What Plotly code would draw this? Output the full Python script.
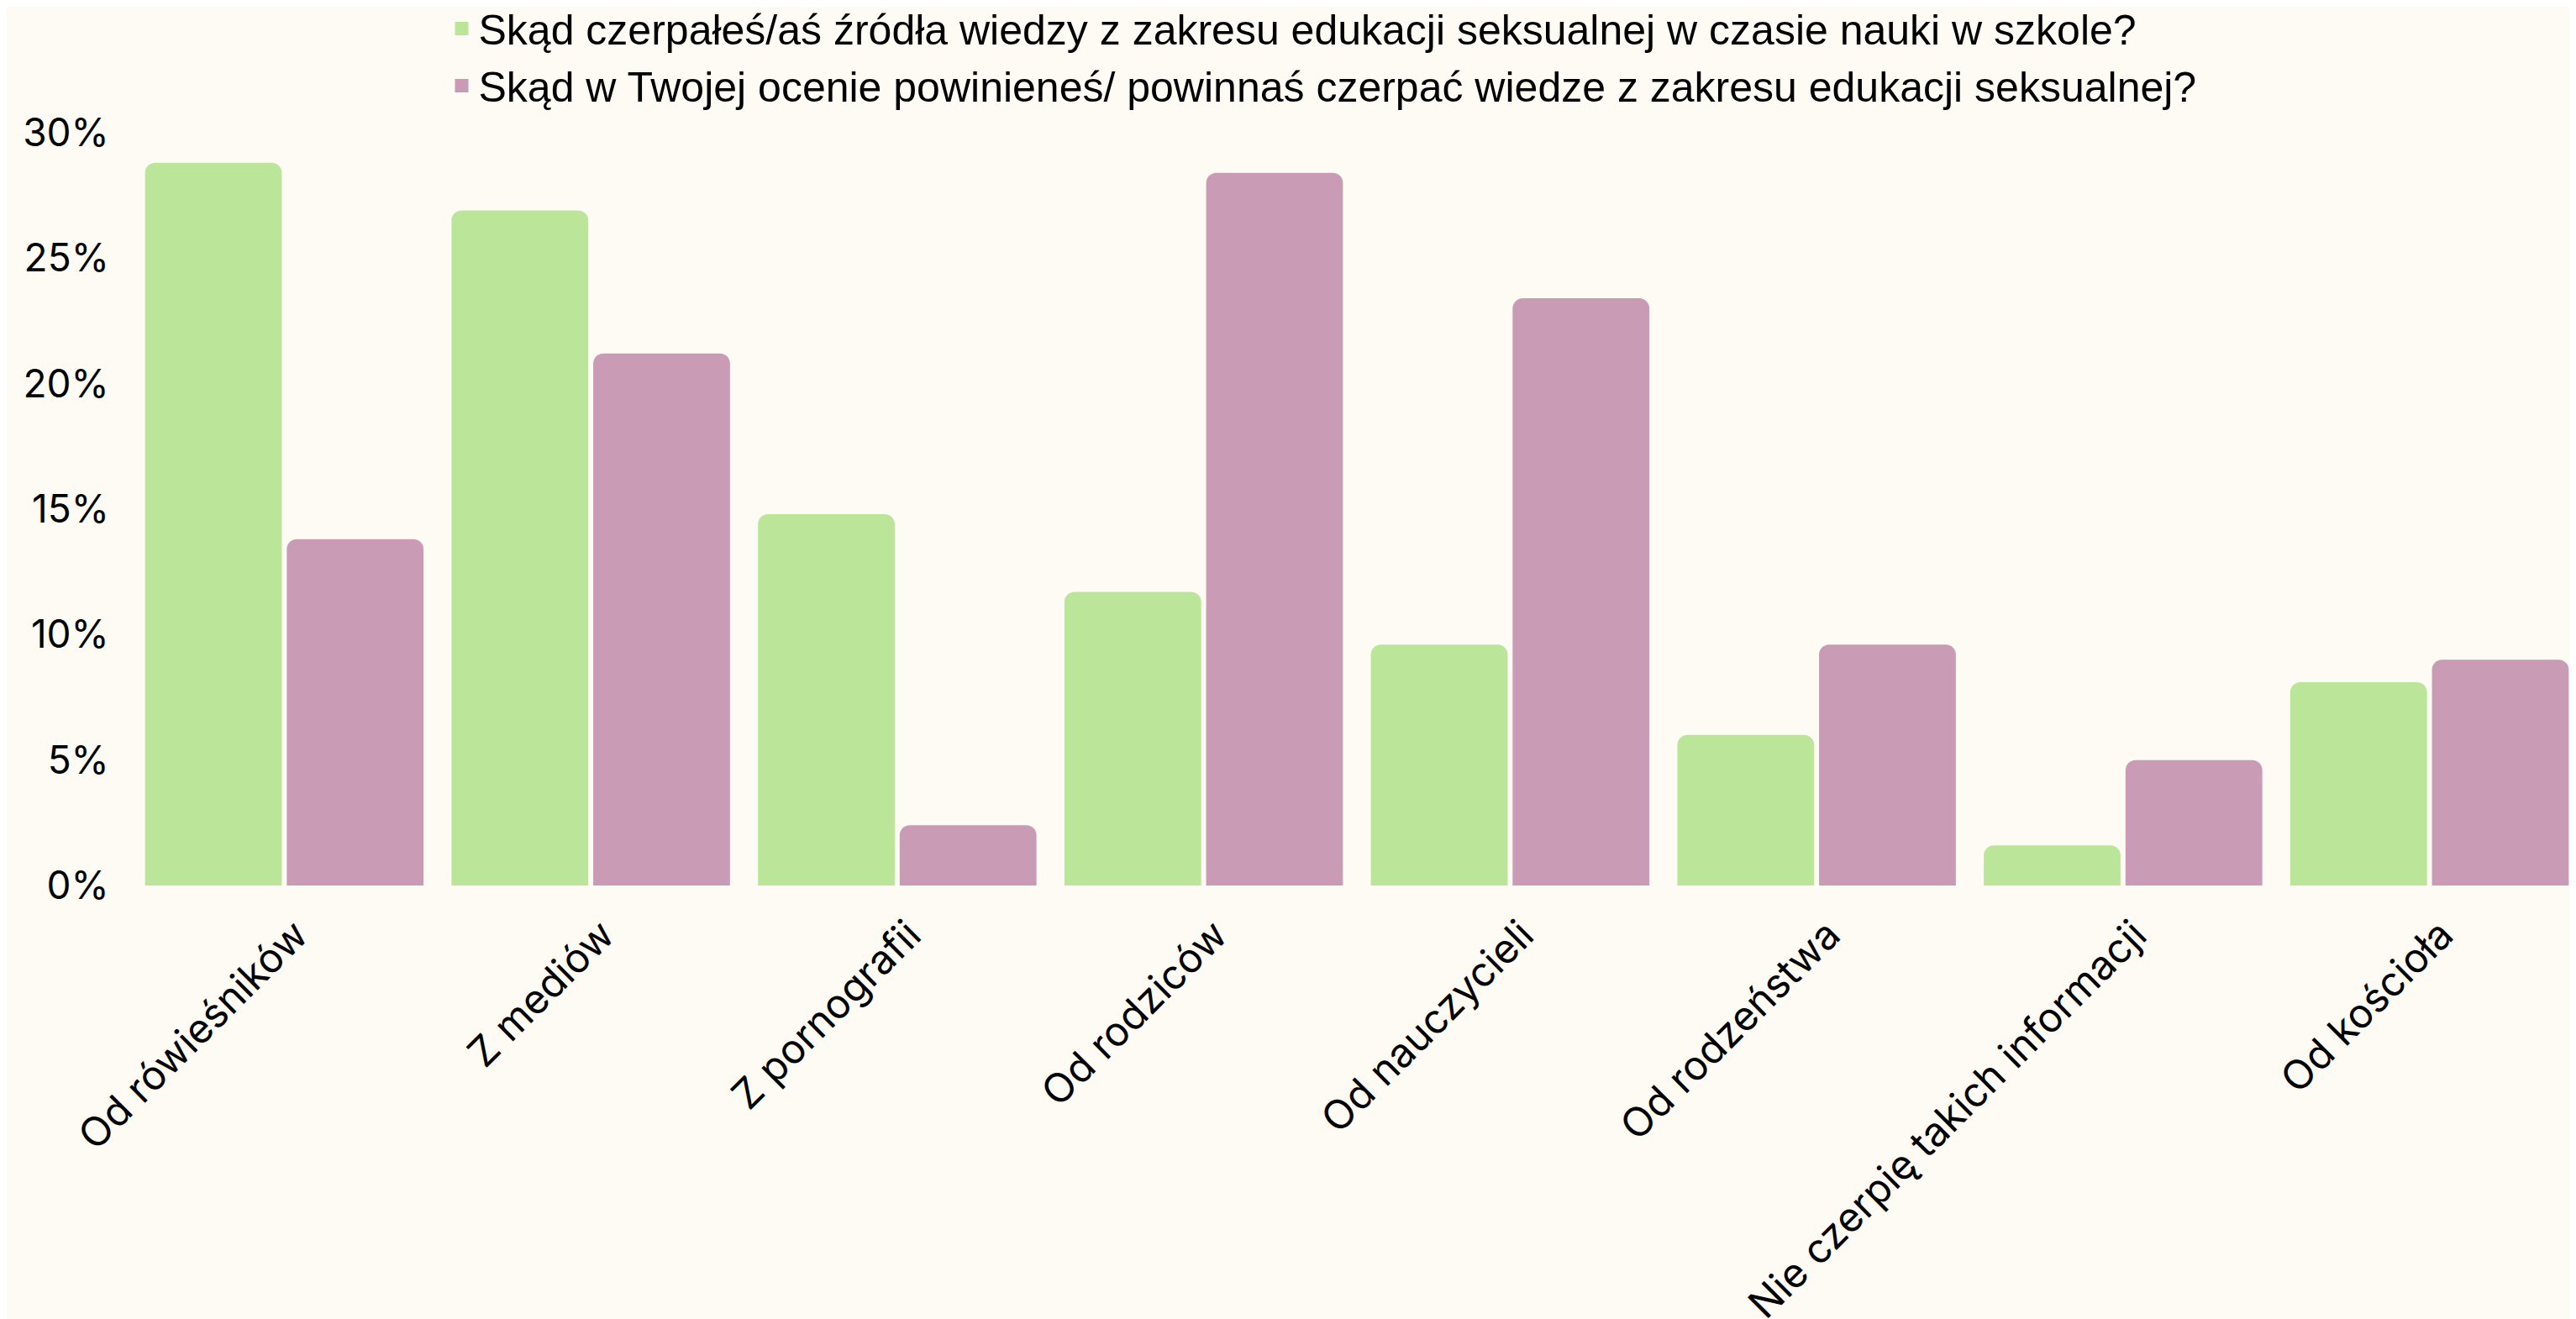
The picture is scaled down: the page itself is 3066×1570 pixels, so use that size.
import plotly.graph_objects as go

categories = ["Od rówieśników", "Z mediów", "Z pornografii", "Od rodziców",
              "Od nauczycieli", "Od rodzeństwa", "Nie czerpię takich informacji", "Od kościoła"]
series_names = [
    "Skąd czerpałeś/aś źródła wiedzy z zakresu edukacji seksualnej w czasie nauki w szkole?",
    "Skąd w Twojej ocenie powinieneś/ powinnaś czerpać wiedze z zakresu edukacji seksualnej?",
]
values_school = [28.8, 26.9, 14.8, 11.7, 9.6, 6.0, 1.6, 8.1]
values_should = [13.8, 21.2, 2.4, 28.4, 23.4, 9.6, 5.0, 9.0]
y_ticks = [0, 5, 10, 15, 20, 25, 30]
y_tick_labels = ["0%", "5%", "10%", "15%", "20%", "25%", "30%"]

BG = "#FDFBF4"
GREEN = "#BBE699"
PURPLE = "#C99BB4"
FONT = "Inter"
colors = [GREEN, PURPLE]

fig = go.Figure()
for vals, col, nm in zip([values_school, values_should], colors, series_names):
    fig.add_trace(go.Bar(x=categories, y=vals, name=nm, showlegend=False,
                         marker=dict(color=col, cornerradius=12, line=dict(width=0))))
# legend entries with larger square swatches
for col, nm in zip(colors, series_names):
    fig.add_trace(go.Scatter(x=[None], y=[None], mode="markers", name=nm,
                             marker=dict(symbol="square", size=16, color=col),
                             hoverinfo="skip"))

fig.update_layout(
    width=3066, height=1570,
    paper_bgcolor=BG, plot_bgcolor=BG,
    margin=dict(l=148, r=0, t=150, b=524, autoexpand=False),
    barmode="group", bargap=0.075, bargroupgap=0.035,
    font=dict(family=FONT, color="#000000", size=40),
    showlegend=True,
    legend=dict(orientation="v", xref="paper", yref="paper",
                x=0.128, y=1.182, xanchor="left", yanchor="top",
                font=dict(family="Liberation Sans", size=50, color="#000000"),
                bgcolor="rgba(0,0,0,0)", tracegroupgap=0, itemsizing="trace"),
    xaxis=dict(showgrid=False, showline=False, zeroline=False, tickangle=-45,
               ticks="", ticklabelstandoff=20, ticklabelshift=14, automargin=False,
               tickfont=dict(family=FONT, size=48, color="#000000")),
    yaxis=dict(range=[0, 30], tickvals=y_ticks, ticktext=y_tick_labels, showgrid=False,
               showline=False, zeroline=False, ticks="outside", ticklen=16, tickcolor=BG,
               automargin=False,
               tickfont=dict(family=FONT, size=46, color="#000000")),
)

fig.write_html("out.html")
